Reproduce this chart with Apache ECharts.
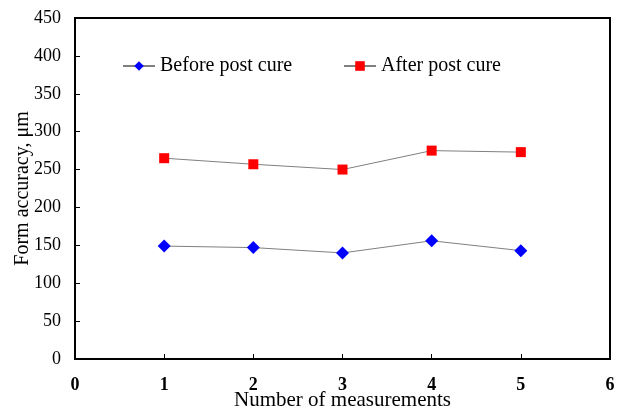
<!DOCTYPE html>
<html><head><meta charset="utf-8">
<script src="https://cdn.jsdelivr.net/npm/echarts@6/dist/echarts.min.js"></script>
<style>html,body{margin:0;padding:0;background:#fff}#c{width:618px;height:410px}</style>
</head><body><div id="c"></div>
<script>
var measurements = [1, 2, 3, 4, 5];
var beforePostCure = [149, 147, 140, 156, 143];
var afterPostCure = [265, 257, 250, 275, 273];
var seriesNames = ['Before post cure', 'After post cure'];
var xTitle = 'Number of measurements';
var yTitle = 'Form accuracy, \u03bcm';

function pairs(xs, ys) { return xs.map(function (x, i) { return [x, ys[i]]; }); }

var font = 'Liberation Serif, Times New Roman, serif';
var chart = echarts.init(document.getElementById('c'), null, { renderer: 'canvas' });
chart.setOption({
  animation: false,
  backgroundColor: '#fff',
  textStyle: { fontFamily: font },
  grid: { left: 75, top: 18, right: 8, bottom: 51, show: true, borderColor: '#000', borderWidth: 2,
          containLabel: false, outerBoundsMode: 'none' },
  legend: [
    { data: [seriesNames[0]], left: 122, top: 56, padding: 0, itemWidth: 32, itemHeight: 12, itemGap: 5,
      textStyle: { fontFamily: font, fontSize: 20, color: '#000' } },
    { data: [seriesNames[1]], left: 343, top: 56, padding: 0, itemWidth: 32, itemHeight: 12, itemGap: 5,
      textStyle: { fontFamily: font, fontSize: 20, color: '#000' } }
  ],
  xAxis: {
    type: 'value', min: 0, max: 6, interval: 1,
    name: xTitle, nameLocation: 'middle', nameGap: 31, nameMoveOverlap: false,
    nameTextStyle: { fontFamily: font, fontSize: 21, color: '#000' },
    axisLine: { show: true, lineStyle: { color: '#000', width: 2 } },
    axisTick: { show: true, inside: true, length: 5, lineStyle: { color: '#000', width: 1 } },
    axisLabel: { fontFamily: font, fontSize: 18, fontWeight: 'bold', color: '#000', margin: 17 },
    splitLine: { show: false }
  },
  yAxis: {
    type: 'value', min: 0, max: 450, interval: 50,
    name: yTitle, nameLocation: 'middle', nameGap: 42, nameMoveOverlap: false,
    nameTextStyle: { fontFamily: font, fontSize: 20, color: '#000' },
    axisLine: { show: true, lineStyle: { color: '#000', width: 2 } },
    axisTick: { show: true, inside: true, length: 5, lineStyle: { color: '#000', width: 1 } },
    axisLabel: { fontFamily: font, fontSize: 18, color: '#000', margin: 14 },
    splitLine: { show: false }
  },
  series: [
    { name: seriesNames[0], type: 'line', data: pairs(measurements, beforePostCure),
      symbol: 'diamond', symbolSize: 13, showAllSymbol: true,
      lineStyle: { color: '#808080', width: 1 }, itemStyle: { color: '#0000ff' } },
    { name: seriesNames[1], type: 'line', data: pairs(measurements, afterPostCure),
      symbol: 'rect', symbolSize: 10, showAllSymbol: true,
      lineStyle: { color: '#808080', width: 1 }, itemStyle: { color: '#ff0000' } }
  ]
});
</script></body></html>
